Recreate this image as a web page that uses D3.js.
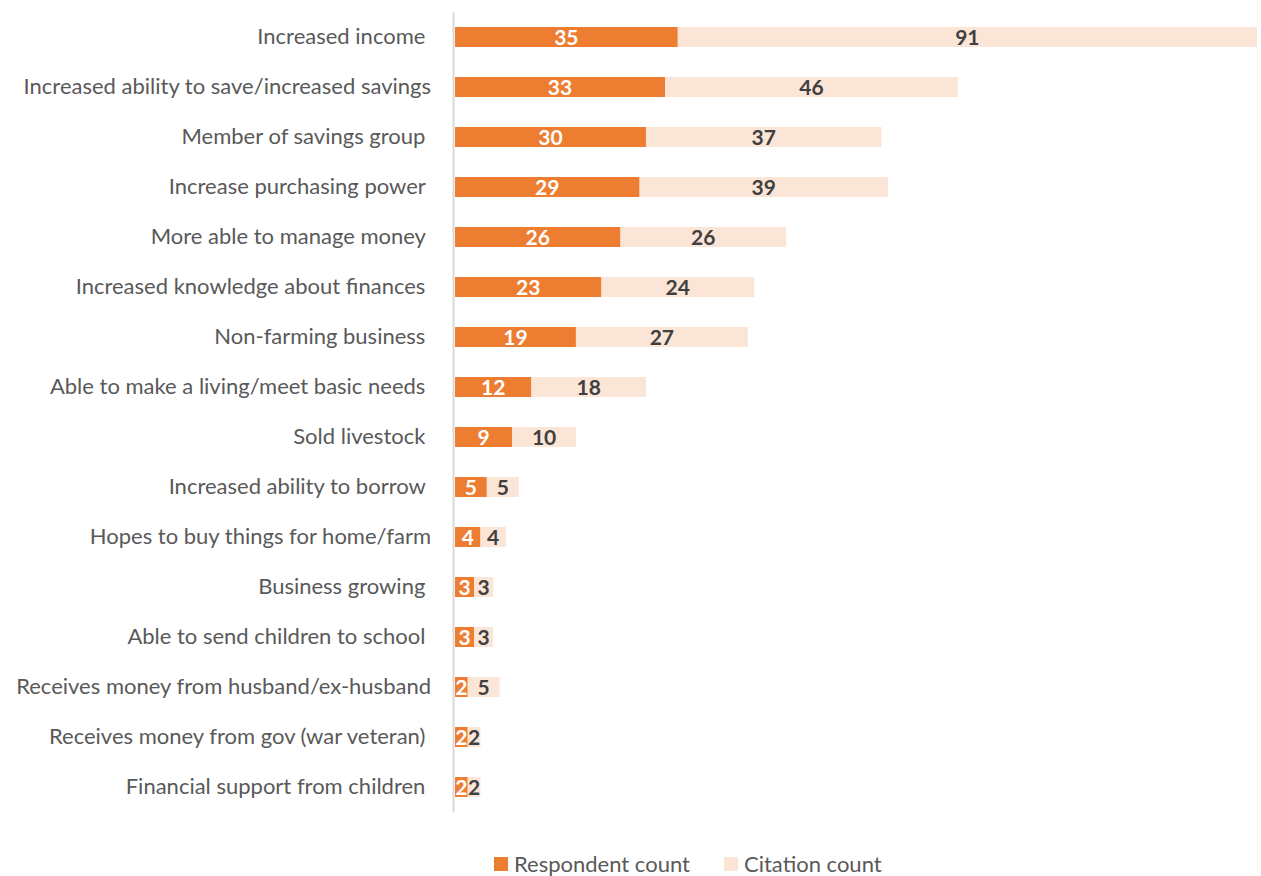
<!DOCTYPE html>
<html>
<head>
<meta charset="utf-8">
<script src="https://cdn.jsdelivr.net/npm/d3@7"></script>
<style>
  html, body { margin: 0; padding: 0; background: #ffffff; }
  svg { display: block; }
  text { font-family: Lato, "Open Sans", sans-serif; }
</style>
</head>
<body>
<svg id="chart" width="1261" height="876"></svg>
<script>
// Categories, top to bottom (trailing spaces are part of the source labels)
const categories = [
  "Increased income ",
  "Increased ability to save/increased savings",
  "Member of savings group ",
  "Increase purchasing power ",
  "More able to manage money ",
  "Increased knowledge about finances ",
  "Non-farming business ",
  "Able to make a living/meet basic needs ",
  "Sold livestock ",
  "Increased ability to borrow ",
  "Hopes to buy things for home/farm",
  "Business growing ",
  "Able to send children to school ",
  "Receives money from husband/ex-husband",
  "Receives money from gov (war veteran) ",
  "Financial support from children "
];
const respondentCount = [35, 33, 30, 29, 26, 23, 19, 12, 9, 5, 4, 3, 3, 2, 2, 2];
const citationCount   = [91, 46, 37, 39, 26, 24, 27, 18, 10, 5, 4, 3, 3, 5, 2, 2];
const seriesNames = ["Respondent count", "Citation count"];
const seriesColors = ["#ED7D31", "#FBE5D6"];
const labelColors = ["#FFFFFF", "#404040"];

const svg = d3.select("#chart");
const plotLeft = 455, plotRight = 1257, plotTop = 12, plotBottom = 812;

const rows = categories.map((c, i) => ({
  cat: c,
  vals: [respondentCount[i], citationCount[i]]
}));

const x = d3.scaleLinear()
  .domain([0, d3.max(rows, r => r.vals[0] + r.vals[1])])
  .range([plotLeft, plotRight]);

const y = d3.scaleBand()
  .domain(categories)
  .range([plotTop, plotBottom])
  .paddingInner(0.6)
  .paddingOuter(0.3);

// stacked segments
const stack = d3.stack().keys([0, 1]).value((d, k) => d.vals[k]);
const layers = stack(rows);

const g = svg.append("g");
layers.forEach((layer, k) => {
  const lg = g.append("g");
  lg.selectAll("rect").data(layer).join("rect")
    .attr("x", d => x(d[0]))
    .attr("y", d => y(d.data.cat))
    .attr("width", d => x(d[1]) - x(d[0]))
    .attr("height", y.bandwidth())
    .attr("fill", seriesColors[k]);
  lg.selectAll("text").data(layer).join("text")
    .attr("x", d => (x(d[0]) + x(d[1])) / 2)
    .attr("y", d => y(d.data.cat) + y.bandwidth() / 2)
    .attr("dy", "0.36em")
    .attr("text-anchor", "middle")
    .attr("font-size", 21)
    .attr("font-weight", 700)
    .attr("fill", labelColors[k])
    .text(d => d[1] - d[0]);
});

// category axis
const yAxis = d3.axisLeft(y).tickSize(0).tickPadding(22);
const ax = svg.append("g").attr("transform", `translate(${plotLeft - 2},0)`).call(yAxis);
ax.select(".domain").attr("stroke", "#D9D9D9").attr("stroke-width", 2);
ax.selectAll(".tick text")
  .attr("font-size", 22)
  .attr("fill", "#595959")
  .style("white-space", "pre")
  .attr("font-family", "Lato, 'Open Sans', sans-serif");

// legend
const legend = svg.append("g");
const legendX = [494, 724];
seriesNames.forEach((name, k) => {
  legend.append("rect")
    .attr("x", legendX[k]).attr("y", 857)
    .attr("width", 14).attr("height", 14)
    .attr("fill", seriesColors[k]);
  legend.append("text")
    .attr("x", legendX[k] + 20).attr("y", 864)
    .attr("dy", "0.36em")
    .attr("font-size", 22)
    .attr("fill", "#595959")
    .text(name);
});
</script>
</body>
</html>
